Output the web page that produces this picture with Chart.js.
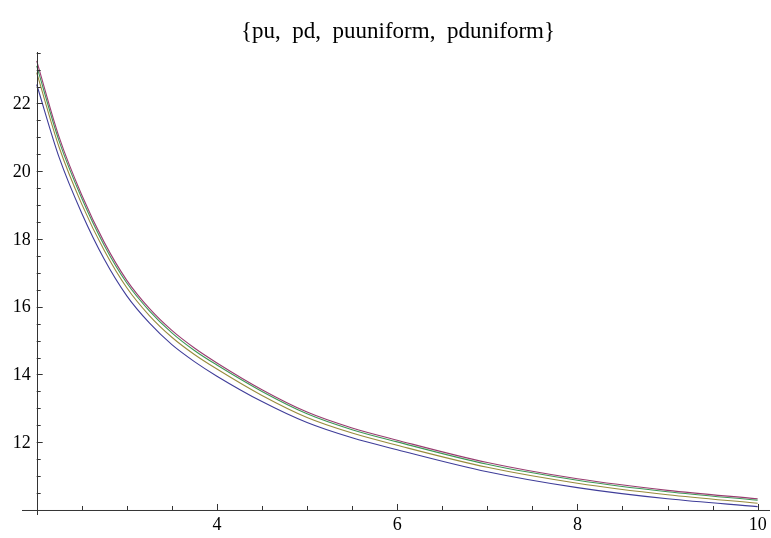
<!DOCTYPE html>
<html>
<head>
<meta charset="utf-8">
<script src="https://cdn.jsdelivr.net/npm/chart.js@4.4.0/dist/chart.umd.min.js"></script>
<style>
  html, body { margin: 0; padding: 0; background: #fff; }
  #wrap { width: 771px; height: 538px; position: relative; }
</style>
</head>
<body>
<div id="wrap"><canvas id="plot"></canvas></div>
<script>
// sample points along x
const xValues = [2, 2.25, 2.5, 2.75, 3, 3.25, 3.5, 3.75, 4, 4.5, 5, 5.5, 6, 7, 8, 9, 10];

// the four curves
const pu        = [22.56, 20.40, 18.76, 17.40, 16.32, 15.52, 14.88, 14.38, 13.95, 13.20, 12.58, 12.13, 11.78, 11.13, 10.66, 10.33, 10.10];
const pd        = [23.26, 21.00, 19.30, 17.90, 16.78, 15.95, 15.30, 14.78, 14.34, 13.55, 12.89, 12.42, 12.06, 11.40, 10.92, 10.58, 10.33];
const puuniform = [22.91, 20.70, 19.03, 17.66, 16.56, 15.74, 15.10, 14.59, 14.16, 13.38, 12.73, 12.27, 11.91, 11.26, 10.79, 10.45, 10.20];
const pduniform = [23.11, 20.88, 19.20, 17.81, 16.70, 15.88, 15.23, 14.71, 14.28, 13.50, 12.84, 12.37, 12.01, 11.35, 10.88, 10.54, 10.29];

// axis ticks
const xMajorTicks = [4, 6, 8, 10];
const yMajorTicks = [12, 14, 16, 18, 20, 22];

const TITLE = '{pu,  pd,  puuniform,  pduniform}';
const TICK_FONT = '18px "Liberation Serif", "Times New Roman", serif';
const TITLE_FONT = '23px "Liberation Serif", "Times New Roman", serif';
const AXIS_COLOR = '#333';

function toPoints(ys) {
  return xValues.map((x, i) => ({ x: x, y: ys[i] }));
}

function makeSet(label, ys, color) {
  return {
    label: label,
    data: toPoints(ys),
    borderColor: color,
    borderWidth: 1.1,
    pointRadius: 0,
    fill: false,
    cubicInterpolationMode: 'monotone'
  };
}

// axes drawn Mathematica-style: crossing at (2, 10), ticks pointing inwards
const axesPlugin = {
  id: 'mmaAxes',
  afterDatasetsDraw(chart) {
    const ctx = chart.ctx;
    const xs = chart.scales.x;
    const ys = chart.scales.y;
    const area = chart.chartArea;
    const ox = xs.getPixelForValue(2);
    const oy = ys.getPixelForValue(10);

    ctx.save();
    ctx.strokeStyle = AXIS_COLOR;
    ctx.lineWidth = 1;
    ctx.beginPath();
    ctx.moveTo(area.left, oy + 0.5);
    ctx.lineTo(area.right, oy + 0.5);
    ctx.moveTo(Math.round(ox) + 0.5, area.top);
    ctx.lineTo(Math.round(ox) + 0.5, area.bottom);
    ctx.stroke();

    // x ticks every 0.5, longer on the labelled ones
    ctx.beginPath();
    for (let v = 2.5; v <= 10.001; v += 0.5) {
      const px = Math.round(xs.getPixelForValue(v)) + 0.5;
      const len = xMajorTicks.includes(v) ? 6 : 4;
      ctx.moveTo(px, oy);
      ctx.lineTo(px, oy - len);
    }
    // y ticks every 0.5
    for (let v = 10.5; v <= 23.501; v += 0.5) {
      const py = Math.round(ys.getPixelForValue(v)) + 0.5;
      const len = yMajorTicks.includes(v) ? 6 : 4;
      ctx.moveTo(ox, py);
      ctx.lineTo(ox + len, py);
    }
    ctx.stroke();

    ctx.fillStyle = '#000';
    ctx.font = TICK_FONT;
    ctx.textAlign = 'center';
    ctx.textBaseline = 'top';
    xMajorTicks.forEach(v => {
      ctx.fillText(String(v), xs.getPixelForValue(v), oy + 6);
    });
    ctx.textAlign = 'right';
    ctx.textBaseline = 'middle';
    yMajorTicks.forEach(v => {
      ctx.fillText(String(v), ox - 6, ys.getPixelForValue(v) + 1);
    });

    ctx.textAlign = 'center';
    ctx.textBaseline = 'middle';
    ctx.font = TITLE_FONT;
    ctx.fillText(TITLE, 398, 32);
    ctx.restore();
  }
};

const ctx = document.getElementById('plot').getContext('2d');
new Chart(ctx, {
  type: 'line',
  data: {
    datasets: [
      makeSet('pu', pu, 'rgb(63,61,153)'),
      makeSet('pd', pd, 'rgb(153,61,113)'),
      makeSet('puuniform', puuniform, 'rgb(153,139,61)'),
      makeSet('pduniform', pduniform, 'rgb(61,153,86)')
    ]
  },
  options: {
    responsive: true,
    maintainAspectRatio: false,
    animation: false,
    layout: { padding: { left: 22, right: 1, top: 52, bottom: 23 } },
    plugins: {
      legend: { display: false },
      title: { display: false },
      tooltip: { enabled: false }
    },
    scales: {
      x: { type: 'linear', min: 1.837, max: 10.137, display: false },
      y: { type: 'linear', min: 9.852, max: 23.52, display: false }
    }
  },
  plugins: [axesPlugin]
});
</script>
</body>
</html>
